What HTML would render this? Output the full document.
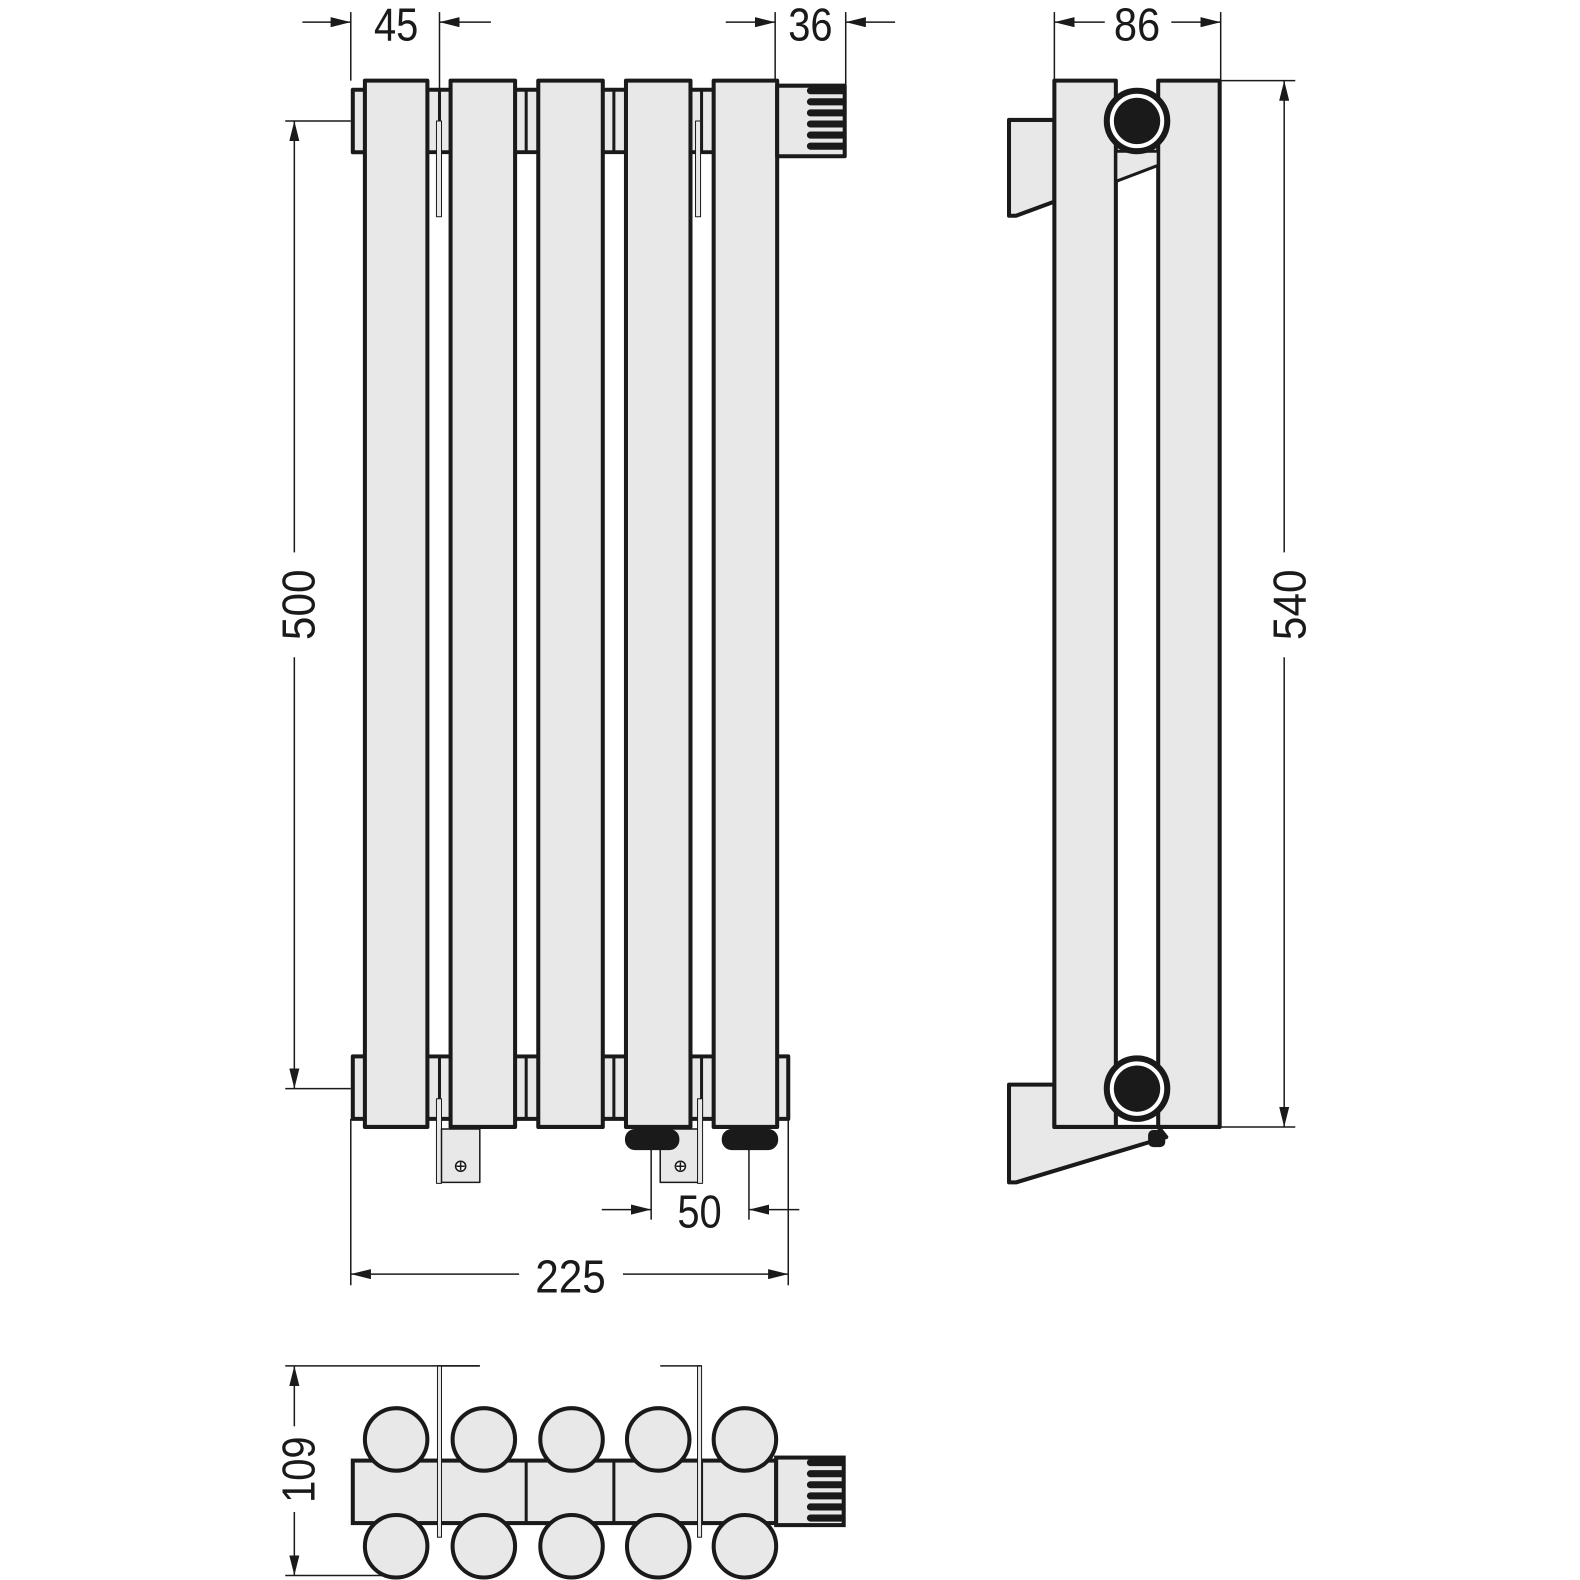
<!DOCTYPE html>
<html><head><style>html,body{margin:0;padding:0;background:#fff}svg{display:block}</style></head><body>
<svg width="1580" height="1580" viewBox="0 0 1580 1580" xmlns="http://www.w3.org/2000/svg" font-family="Liberation Sans, sans-serif">
<defs>
<marker id="a" viewBox="0 0 20 10" refX="20" refY="5" markerWidth="20" markerHeight="10" markerUnits="userSpaceOnUse" orient="auto"><path d="M0,0 L20,5 L0,10z" fill="#1a1a1a"/></marker>
</defs>
<g transform="scale(1.008)">
<g stroke="#1a1a1a" fill="#e8e8e8" stroke-width="4" stroke-linejoin="round">
<rect x="350" y="89" width="420" height="62" fill="#e8e8e8"/>
<rect x="350" y="1048" width="432" height="62"/>
<g stroke-width="3">
<line x1="436" y1="89" x2="436" y2="151"/><line x1="522" y1="89" x2="522" y2="151"/><line x1="609" y1="89" x2="609" y2="151"/><line x1="696" y1="89" x2="696" y2="151"/>
<line x1="436" y1="1048" x2="436" y2="1110"/><line x1="522" y1="1048" x2="522" y2="1110"/><line x1="609" y1="1048" x2="609" y2="1110"/><line x1="696" y1="1048" x2="696" y2="1110"/>
</g>
<rect x="424" y="153" width="23" height="893" fill="#fff" stroke="none"/>
<rect x="511" y="153" width="23" height="893" fill="#fff" stroke="none"/>
<rect x="598" y="153" width="23" height="893" fill="#fff" stroke="none"/>
<rect x="685" y="153" width="23" height="893" fill="#fff" stroke="none"/>
<rect x="433" y="120" width="5" height="95" stroke-width="1" fill="#e8e8e8"/>
<rect x="690" y="120" width="5" height="95" stroke-width="1" fill="#e8e8e8"/>
<rect x="362" y="80" width="62" height="1038"/>
<rect x="447" y="80" width="64" height="1038"/>
<rect x="534" y="80" width="64" height="1038"/>
<rect x="621" y="80" width="64" height="1038"/>
<rect x="708" y="80" width="63" height="1038"/>
<rect x="771" y="85" width="67" height="70"/>
<g stroke-width="3" fill="#1a1a1a"><rect x="802" y="88" width="36" height="4" rx="2"/><rect x="802" y="99" width="36" height="4" rx="2"/><rect x="802" y="110" width="36" height="4" rx="2"/><rect x="802" y="121" width="36" height="4" rx="2"/><rect x="802" y="132" width="36" height="4" rx="2"/><rect x="802" y="143" width="36" height="4" rx="2"/></g>
<rect x="433" y="1090" width="5" height="84" stroke-width="1"/>
<rect x="438" y="1120" width="38" height="53" stroke-width="1.5"/>
<rect x="655" y="1120" width="38" height="53" stroke-width="1.5"/>
<rect x="692" y="1090" width="5" height="84" stroke-width="1"/>
<circle cx="457" cy="1157" r="5" stroke-width="1.5" fill="#fff"/><path d="M453,1157h8M457,1153v8" stroke-width="1.5"/>
<circle cx="675" cy="1157" r="5" stroke-width="1.5" fill="#fff"/><path d="M671,1157h8M675,1153v8" stroke-width="1.5"/>
<rect x="622" y="1122" width="50" height="17" rx="8" fill="#1a1a1a"/>
<rect x="718" y="1122" width="52" height="17" rx="8" fill="#1a1a1a"/>
</g>
<g stroke="#1a1a1a" stroke-width="1.5" fill="none">
<line x1="348" y1="12" x2="348" y2="80"/><line x1="436" y1="12" x2="436" y2="88"/>
<line x1="300" y1="22" x2="348" y2="22" marker-end="url(#a)"/><line x1="487" y1="22" x2="436" y2="22" marker-end="url(#a)"/>
<line x1="769" y1="12" x2="769" y2="80"/><line x1="839" y1="12" x2="839" y2="85"/>
<line x1="720" y1="22" x2="769" y2="22" marker-end="url(#a)"/><line x1="888" y1="22" x2="839" y2="22" marker-end="url(#a)"/>
<line x1="283" y1="120" x2="348" y2="120"/><line x1="283" y1="1080" x2="348" y2="1080"/>
<line x1="292" y1="548" x2="292" y2="120" marker-end="url(#a)"/><line x1="292" y1="652" x2="292" y2="1080" marker-end="url(#a)"/>
<line x1="348" y1="1110" x2="348" y2="1275"/><line x1="782" y1="1110" x2="782" y2="1275"/>
<line x1="515" y1="1264" x2="348" y2="1264" marker-end="url(#a)"/><line x1="618" y1="1264" x2="782" y2="1264" marker-end="url(#a)"/>
<line x1="646" y1="1140" x2="646" y2="1210"/><line x1="743" y1="1140" x2="743" y2="1210"/>
<line x1="597" y1="1200" x2="646" y2="1200" marker-end="url(#a)"/><line x1="793" y1="1200" x2="743" y2="1200" marker-end="url(#a)"/>
<line x1="1046" y1="12" x2="1046" y2="80"/><line x1="1211" y1="12" x2="1211" y2="80"/>
<line x1="1096" y1="22" x2="1046" y2="22" marker-end="url(#a)"/><line x1="1162" y1="22" x2="1211" y2="22" marker-end="url(#a)"/>
<line x1="1211" y1="80" x2="1285" y2="80"/><line x1="1211" y1="1118" x2="1285" y2="1118"/>
<line x1="1274" y1="548" x2="1274" y2="80" marker-end="url(#a)"/><line x1="1274" y1="652" x2="1274" y2="1118" marker-end="url(#a)"/>
<line x1="283" y1="1355" x2="476" y2="1355"/><line x1="283" y1="1563" x2="390" y2="1563"/>
<line x1="292" y1="1415" x2="292" y2="1355" marker-end="url(#a)"/><line x1="292" y1="1500" x2="292" y2="1563" marker-end="url(#a)"/>
</g>
<g stroke="#1a1a1a" fill="#e8e8e8" stroke-width="4" stroke-linejoin="round">
<polygon points="1001,119 1046,119 1046,200 1008,214 1001,214"/>
<polygon points="1001,1076 1046,1076 1046,1118 1149,1118 1157,1128 1008,1173 1001,1173"/>
<rect x="1140" y="1122" width="15" height="15" rx="4" fill="#1a1a1a" stroke-width="2"/>
<rect x="1046" y="80" width="61" height="1038"/>
<rect x="1149" y="80" width="61" height="1038"/>
<polygon points="1107,150 1149,150 1149,164 1107,180" stroke-width="3"/>
<circle cx="1128" cy="120" r="30" fill="#fff" stroke-width="6"/>
<circle cx="1128" cy="120" r="23" fill="#1a1a1a" stroke="none"/>
<circle cx="1128" cy="1080" r="30" fill="#fff" stroke-width="6"/>
<circle cx="1128" cy="1080" r="23" fill="#1a1a1a" stroke="none"/>
</g>
<g stroke="#1a1a1a" fill="#e8e8e8" stroke-width="4">
<rect x="350" y="1449" width="420" height="62"/>
<line x1="436" y1="1449" x2="436" y2="1511" stroke-width="3"/><line x1="522" y1="1449" x2="522" y2="1511" stroke-width="3"/><line x1="609" y1="1449" x2="609" y2="1511" stroke-width="3"/><line x1="696" y1="1449" x2="696" y2="1511" stroke-width="3"/>
<rect x="434" y="1355" width="4" height="170" stroke-width="1" fill="#e8e8e8"/>
<rect x="692" y="1355" width="4" height="170" stroke-width="1" fill="#e8e8e8"/>
<path d="M434,1355 h42 M696,1355 h-41" stroke-width="1.5" fill="none"/>
<circle cx="393" cy="1428" r="31"/><circle cx="480" cy="1428" r="31"/><circle cx="567" cy="1428" r="31"/><circle cx="653" cy="1428" r="31"/><circle cx="739" cy="1428" r="31"/>
<circle cx="393" cy="1534" r="31"/><circle cx="480" cy="1534" r="31"/><circle cx="567" cy="1534" r="31"/><circle cx="653" cy="1534" r="31"/><circle cx="739" cy="1534" r="31"/>
<rect x="770" y="1446" width="67" height="67"/>
<g stroke-width="3" fill="#1a1a1a"><rect x="802" y="1449" width="35" height="4" rx="2"/><rect x="802" y="1460" width="35" height="4" rx="2"/><rect x="802" y="1471" width="35" height="4" rx="2"/><rect x="802" y="1482" width="35" height="4" rx="2"/><rect x="802" y="1493" width="35" height="4" rx="2"/><rect x="802" y="1504" width="35" height="4" rx="2"/></g>
</g>
<g fill="#1a1a1a" font-size="46">
<text x="393" y="40" text-anchor="middle" textLength="44" lengthAdjust="spacingAndGlyphs">45</text>
<text x="804" y="40" text-anchor="middle" textLength="44" lengthAdjust="spacingAndGlyphs">36</text>
<text x="1128" y="40" text-anchor="middle" textLength="46" lengthAdjust="spacingAndGlyphs">86</text>
<text x="566" y="1282" text-anchor="middle" textLength="70" lengthAdjust="spacingAndGlyphs">225</text>
<text x="694" y="1218" text-anchor="middle" textLength="44" lengthAdjust="spacingAndGlyphs">50</text>
<text transform="translate(312,600) rotate(-90)" text-anchor="middle" textLength="70" lengthAdjust="spacingAndGlyphs">500</text>
<text transform="translate(1295,600) rotate(-90)" text-anchor="middle" textLength="70" lengthAdjust="spacingAndGlyphs">540</text>
<text transform="translate(312,1458) rotate(-90)" text-anchor="middle" textLength="66" lengthAdjust="spacingAndGlyphs">109</text>
</g>
</g>
</svg>
</body></html>
